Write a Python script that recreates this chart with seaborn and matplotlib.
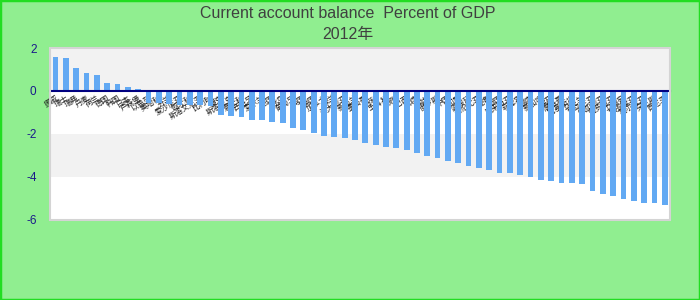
import matplotlib
matplotlib.use("Agg")
import matplotlib.pyplot as plt
import seaborn as sns
import pandas as pd
from matplotlib.patches import Rectangle

title_line1 = "Current account balance  Percent of GDP"
title_line2 = "2012年"

countries = ["挪威","瑞士","瑞典","丹麦","荷兰","德国","韩国","日本","卢森堡","以色列",
             "奥地利","芬兰","爱沙尼亚","匈牙利","斯洛文尼亚","比利时","捷克","斯洛伐克","意大利","西班牙",
             "爱尔兰","法国","冰岛","葡萄牙","英国","美国","加拿大","波兰","澳大利亚","新西兰",
             "墨西哥","智利","土耳其","希腊","巴西","印度","南非","俄罗斯","中国","印尼",
             "阿根廷","哥伦比亚","秘鲁","泰国","马来西亚","菲律宾","越南","新加坡","埃及","摩洛哥",
             "巴基斯坦","乌克兰","罗马尼亚","保加利亚","克罗地亚","立陶宛","拉脱维亚","塞尔维亚","突尼斯","肯尼亚"]

balance = [1.60, 1.55, 1.08, 0.85, 0.76, 0.39, 0.34, 0.20, 0.10,
           -0.54, -0.58, -0.61, -0.64, -0.66, -0.67, -0.69, -1.14, -1.18, -1.22,
           -1.36, -1.37, -1.45, -1.50, -1.72, -1.81, -1.96, -2.10, -2.15, -2.20,
           -2.30, -2.44, -2.53, -2.62, -2.67, -2.77, -2.90, -3.01, -3.10, -3.25,
           -3.34, -3.49, -3.58, -3.68, -3.82, -3.82, -3.92, -4.02, -4.16, -4.21,
           -4.30, -4.30, -4.35, -4.64, -4.78, -4.88, -5.02, -5.12, -5.22, -5.22, -5.31]

y_ticks = [2, 0, -2, -4, -6]

df = pd.DataFrame({"country": countries, "value": balance})

sns.set_theme(style="white")
plt.rcParams['font.family'] = ['Liberation Sans', 'Noto Sans CJK SC', 'DejaVu Sans']

fig = plt.figure(figsize=(7, 3), dpi=100)
fig.patch.set_facecolor('#90EE90')
fig.add_artist(Rectangle((0, 0), 1, 1, transform=fig.transFigure, fill=False,
                         ec='#22DD22', lw=2.5))

ax = fig.add_axes([0.072, 0.267, 0.885, 0.573])
ax.set_facecolor('white')

# background bands
ax.axhspan(0, 2, color='#F2F2F2', zorder=0, lw=0)
ax.axhspan(-4, -2, color='#F2F2F2', zorder=0, lw=0)

sns.barplot(data=df, x="country", y="value", order=countries, color='#62A9F3',
            saturation=1, width=0.56, linewidth=0, ax=ax, zorder=2)

ax.set_ylim(-6, 2)
ax.set_xlim(-0.5, len(countries) - 0.5)
ax.set_yticks(y_ticks)
ax.set_yticklabels([str(t) for t in y_ticks], color='#1A1A8A', fontsize=8.5)
ax.set_xlabel("")
ax.set_ylabel("")

for s in ['left', 'right', 'top']:
    ax.spines[s].set_visible(False)
ax.spines['bottom'].set_position(('data', 0))
ax.spines['bottom'].set_color('#000080')
ax.spines['bottom'].set_linewidth(1.5)
ax.spines['bottom'].set_zorder(4)

ax.tick_params(axis='y', length=0, pad=10)
ax.tick_params(axis='x', length=0, pad=2)
ax.set_xticks(range(len(countries)))
ax.set_xticklabels(countries, rotation=32, ha='right', va='top',
                   rotation_mode='anchor',
                   fontsize=5.5, color='#202020',
                   family=['Noto Sans CJK SC', 'DejaVu Sans'])

ax.add_patch(Rectangle((0, 0), 1, 1, transform=ax.transAxes, fill=False,
                       ec='#D4D4D4', lw=1.5, zorder=5, clip_on=False))

fig.text(0.497, 0.955, title_line1, ha='center', va='center', fontsize=11.5,
         color='#404040')
fig.text(0.497, 0.885, title_line2, ha='center', va='center', fontsize=11.5,
         color='#404040', family=['Liberation Sans', 'Noto Sans CJK SC'])

fig.savefig("out.png", dpi=100, facecolor=fig.get_facecolor())
